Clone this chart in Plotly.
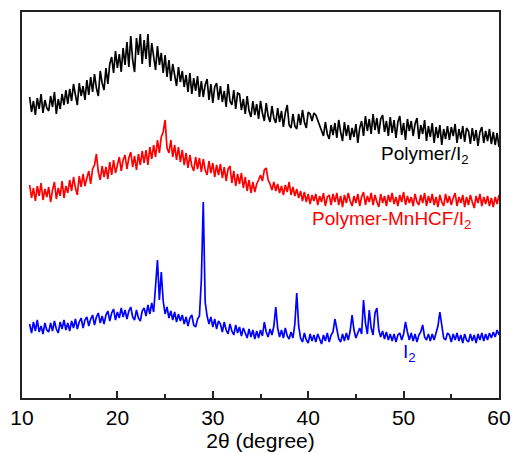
import numpy as np
import plotly.graph_objects as go

# 2-theta scan grid (degrees), 0.2 degree step
two_theta = np.round(np.arange(10.8, 60.0001, 0.2), 1)

# Intensities (a.u., already stacked with vertical offsets)
polymer_i2 = [
    301, 286, 297, 283, 300, 289, 304, 285, 298, 290,
    287, 302, 291, 306, 284, 299, 289, 304, 293, 308,
    294, 309, 297, 314, 303, 293, 315, 302, 312, 298,
    318, 303, 321, 306, 324, 310, 302, 327, 315, 308,
    330, 314, 334, 341, 325, 347, 330, 344, 326, 350,
    333, 356, 331, 362, 338, 326, 360, 343, 364, 334,
    358, 339, 364, 331, 355, 342, 328, 352, 333, 345,
    325, 343, 321, 338, 317, 334, 323, 312, 331, 316,
    327, 311, 323, 306, 325, 304, 320, 307, 322, 301,
    317, 301, 313, 319, 298, 314, 295, 311, 315, 298,
    312, 296, 307, 291, 314, 297, 293, 308, 289, 305,
    304, 288, 299, 284, 302, 287, 281, 297, 283, 294,
    279, 297, 285, 277, 295, 282, 276, 292, 280, 275,
    290, 276, 287, 271, 285, 293, 273, 270, 284, 272,
    269, 284, 273, 288, 276, 270, 286, 284, 277, 285,
    283, 278, 274, 268, 262, 276, 264, 259, 273, 263,
    275, 260, 278, 266, 257, 276, 262, 273, 258, 270,
    261, 274, 255, 270, 277, 262, 282, 267, 279, 264,
    284, 268, 280, 264, 279, 283, 266, 277, 262, 281,
    265, 278, 260, 276, 282, 263, 275, 258, 279, 267,
    277, 262, 274, 280, 259, 273, 264, 278, 257, 272,
    261, 275, 255, 271, 260, 273, 253, 269, 259, 272,
    258, 271, 262, 274, 255, 269, 259, 272, 256, 270,
    267, 254, 270, 257, 268, 252, 266, 271, 255, 267,
    257, 269, 254, 266, 253, 265, 251,
]

polymer_mnhcf_i2 = [
    213, 200, 210, 197, 212, 202, 215, 198, 209, 201,
    211, 196, 208, 216, 199, 210, 202, 217, 200, 212,
    205, 218, 207, 221, 210, 203, 222, 211, 224, 212,
    220, 227, 214, 229, 233, 244, 226, 218, 232, 221,
    231, 219, 236, 223, 238, 225, 233, 241, 227, 238,
    243, 229, 240, 246, 231, 242, 228, 244, 233, 247,
    235, 248, 233, 251, 239, 253, 241, 258, 245, 261,
    266, 278, 250, 245, 258, 241, 253, 238, 251, 236,
    248, 233, 245, 230, 243, 232, 227, 241, 229, 240,
    226, 239, 228, 223, 237, 225, 235, 221, 233, 223,
    234, 220, 231, 217, 229, 232, 215, 227, 212, 224,
    214, 225, 210, 221, 207, 218, 205, 216, 206, 214,
    218, 223, 217, 228, 230, 218, 214, 208, 216, 207,
    214, 205, 212, 203, 213, 206, 216, 203, 211, 202,
    209, 200, 207, 197, 206, 196, 204, 194, 203, 197,
    204, 193, 202, 196, 205, 192, 201, 203, 193, 204,
    196, 205, 193, 202, 191, 203, 195, 205, 197, 192,
    202, 195, 204, 192, 201, 206, 193, 202, 196, 205,
    193, 203, 196, 191, 204, 195, 202, 192, 203, 196,
    205, 194, 201, 192, 203, 196, 206, 193, 202, 195,
    201, 192, 204, 196, 193, 203, 195, 205, 192, 202,
    195, 204, 193, 201, 191, 203, 196, 192, 204, 195,
    202, 193, 200, 205, 192, 201, 195, 203, 191, 201,
    193, 203, 196, 190, 202, 195, 204, 192, 201, 194,
    202, 192, 200, 191, 201, 194, 203,
]

iodine = [
    74, 65, 76, 67, 78, 66, 72, 64, 75, 68,
    66, 75, 67, 77, 69, 65, 76, 69, 78, 68,
    75, 67, 77, 70, 79, 69, 76, 80, 70, 78,
    81, 72, 79, 83, 73, 81, 85, 75, 82, 74,
    83, 87, 77, 85, 89, 78, 86, 80, 90, 81,
    88, 79, 87, 91, 81, 78, 88, 80, 77, 87,
    90, 82, 93, 84, 95, 86, 112, 138, 98, 126,
    97, 84, 91, 80, 87, 78, 86, 76, 84, 77,
    83, 74, 81, 72, 80, 83, 73, 71, 79, 82,
    118, 196, 96, 82, 74, 81, 71, 79, 69, 77,
    74, 66, 76, 68, 64, 74, 67, 63, 73, 65,
    71, 62, 70, 64, 60, 69, 61, 68, 59, 67,
    60, 68, 62, 76, 66, 61, 69, 63, 72, 91,
    70, 61, 68, 60, 70, 62, 59, 66, 60, 74,
    105, 72, 60, 56, 65, 58, 55, 64, 57, 63,
    56, 64, 58, 54, 63, 57, 65, 56, 63, 66,
    79, 70, 59, 56, 64, 57, 65, 58, 67, 83,
    68, 60, 65, 70, 64, 98, 75, 64, 88, 70,
    63, 85, 90, 68, 61, 67, 59, 66, 58, 64,
    57, 64, 56, 63, 65, 58, 64, 76, 66, 58,
    65, 57, 64, 56, 63, 66, 73, 61, 58, 64,
    57, 64, 58, 66, 72, 86, 70, 60, 58, 65,
    63, 56, 64, 58, 65, 57, 63, 55, 64, 58,
    56, 64, 57, 63, 55, 64, 58, 65, 57, 64,
    58, 65, 60, 66, 61, 68, 63,
]

series = [
    ("Polymer/I<sub>2</sub>", polymer_i2, "#000000"),
    ("Polymer-MnHCF/I<sub>2</sub>", polymer_mnhcf_i2, "#ff0000"),
    ("I<sub>2</sub>", iodine, "#0000ff"),
]

# curve labels: (text, x, y, colour)
labels = [
    ("Polymer/I<sub>2</sub>", 47.4, 243, "#000000"),
    ("Polymer-MnHCF/I<sub>2</sub>", 40.2, 178, "#ff0000"),
    ("I<sub>2</sub>", 49.7, 45, "#0000ff"),
]

x_ticks = [10, 20, 30, 40, 50, 60]

fig = go.Figure()
for name, vals, col in series:
    fig.add_trace(go.Scatter(
        x=two_theta, y=vals, mode="lines", name=name,
        line=dict(color=col, width=1.7), showlegend=False,
    ))

for text, lx, ly, col in labels:
    fig.add_annotation(
        x=lx, y=ly, text=text, showarrow=False,
        xanchor="left", yanchor="middle",
        font=dict(family="Liberation Sans, Arial", size=19, color=col),
    )

fig.update_layout(
    width=514, height=452,
    margin=dict(l=22, r=15, t=12, b=54),
    paper_bgcolor="white", plot_bgcolor="white",
    font=dict(family="Liberation Sans, Arial", size=20, color="black"),
)
fig.update_xaxes(
    range=[10, 60], tickvals=x_ticks, ticks="inside", ticklen=7,
    tickwidth=1.5, tickcolor="#222", automargin=False,
    minor=dict(dtick=5, ticks="inside", ticklen=4, tickwidth=1.5, tickcolor="#222"),
    showline=True, linecolor="#222", linewidth=1.5, mirror=True,
    showgrid=False, zeroline=False,
    tickfont=dict(size=21),
    title=dict(text="2θ (degree)", font=dict(size=21), standoff=1),
)
fig.update_yaxes(
    range=[0, 386], showticklabels=False, ticks="", automargin=False,
    showline=True, linecolor="#222", linewidth=1.5, mirror=True,
    showgrid=False, zeroline=False,
)

fig.write_html("out.html")
